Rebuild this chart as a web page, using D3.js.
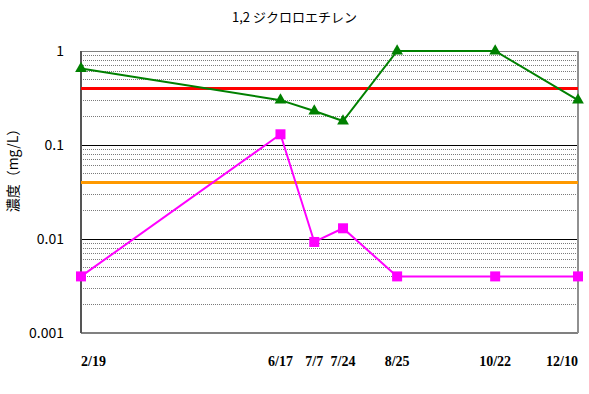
<!DOCTYPE html>
<html>
<head>
<meta charset="utf-8">
<script src="https://cdn.jsdelivr.net/npm/d3@7/dist/d3.min.js"></script>
<style>
  html, body { margin: 0; padding: 0; background: #fff; }
  svg { display: block; }
</style>
</head>
<body>
<div id="chart"></div>
<script>
// Sampling dates (month/day) and measured concentrations (mg/L)
const sampleDates = ["2/19", "6/17", "7/7", "7/24", "8/25", "10/22", "12/10"];
const seriesGreen = [0.65, 0.30, 0.23, 0.18, 1.0, 1.0, 0.30];
const seriesPink  = [0.004, 0.13, 0.0093, 0.013, 0.004, 0.004, 0.004];
// Reference levels drawn as horizontal lines
const limitRed = 0.4;
const limitOrange = 0.04;
// Y axis tick labels
const yTicks = [1, 0.1, 0.01, 0.001];
const yTickLabels = ["1", "0.1", "0.01", "0.001"];
const titleText = "1,2 ジクロロエチレン";
const yTitle = "濃度（mg/L）";

const W = 589, H = 394;
const m = { left: 81, right: 11, top: 51, bottom: 61 };

const parse = s => { const [mo, d] = s.split("/").map(Number); return new Date(2009, mo - 1, d); };
const dates = sampleDates.map(parse);

const svg = d3.select("#chart").append("svg").attr("width", W).attr("height", H);

const x = d3.scaleTime().domain(d3.extent(dates)).range([m.left, W - m.right]);
const y = d3.scaleLog().domain([0.001, 1]).range([H - m.bottom, m.top]);

// Minor gridlines (2..9 in each decade), dotted
const minor = [];
[0.001, 0.01, 0.1].forEach(base => { for (let k = 2; k <= 9; k++) minor.push(base * k); });
svg.append("g").selectAll("line").data(minor).join("line")
  .attr("x1", m.left).attr("x2", W - m.right)
  .attr("y1", d => y(d)).attr("y2", d => y(d))
  .attr("stroke", "#7a7a7a").attr("stroke-width", 1)
  .attr("stroke-dasharray", "1,1").attr("shape-rendering", "crispEdges");

// Major gridlines
svg.append("g").selectAll("line").data([0.1, 0.01]).join("line")
  .attr("x1", m.left).attr("x2", W - m.right)
  .attr("y1", d => y(d)).attr("y2", d => y(d))
  .attr("stroke", "#000").attr("stroke-width", 1).attr("shape-rendering", "crispEdges");

// Plot frame
svg.append("line").attr("x1", m.left).attr("x2", W - m.right).attr("y1", y(1)).attr("y2", y(1))
  .attr("stroke", "#808080").attr("stroke-width", 1).attr("shape-rendering", "crispEdges");
svg.append("line").attr("x1", m.left).attr("x2", W - m.right).attr("y1", y(0.001)).attr("y2", y(0.001))
  .attr("stroke", "#808080").attr("stroke-width", 1.5).attr("shape-rendering", "crispEdges");
svg.append("line").attr("x1", W - m.right).attr("x2", W - m.right).attr("y1", y(1)).attr("y2", y(0.001))
  .attr("stroke", "#909090").attr("stroke-width", 2).attr("shape-rendering", "crispEdges");
svg.append("line").attr("x1", m.left).attr("x2", m.left).attr("y1", y(1)).attr("y2", y(0.001))
  .attr("stroke", "#555").attr("stroke-width", 2).attr("shape-rendering", "crispEdges");

// Reference lines
svg.append("line").attr("x1", m.left).attr("x2", W - m.right)
  .attr("y1", y(limitRed)).attr("y2", y(limitRed))
  .attr("stroke", "#ff0000").attr("stroke-width", 3);
svg.append("line").attr("x1", m.left).attr("x2", W - m.right)
  .attr("y1", y(limitOrange)).attr("y2", y(limitOrange))
  .attr("stroke", "#ff9900").attr("stroke-width", 3);

// Series lines
const line = d3.line().x((d, i) => x(dates[i])).y(d => y(d));
svg.append("path").datum(seriesPink).attr("d", line)
  .attr("fill", "none").attr("stroke", "#ff00ff").attr("stroke-width", 2);
svg.append("path").datum(seriesGreen).attr("d", line)
  .attr("fill", "none").attr("stroke", "#008000").attr("stroke-width", 2);

// Markers
svg.append("g").selectAll("rect").data(seriesPink).join("rect")
  .attr("x", (d, i) => x(dates[i]) - 5).attr("y", d => y(d) - 5)
  .attr("width", 10).attr("height", 10).attr("fill", "#ff00ff");
const tri = d3.symbol().type(d3.symbolTriangle).size(60);
svg.append("g").selectAll("path").data(seriesGreen).join("path")
  .attr("d", tri)
  .attr("transform", (d, i) => `translate(${x(dates[i])},${y(d)})`)
  .attr("fill", "#008000");

// Y tick labels
svg.append("g").selectAll("text").data(yTicks).join("text")
  .attr("x", 64).attr("y", d => y(d)).attr("dy", "0.35em")
  .attr("text-anchor", "end")
  .attr("font-family", "'Noto Sans CJK JP', 'DejaVu Sans', sans-serif")
  .attr("font-size", 14).attr("fill", "#000")
  .text((d, i) => yTickLabels[i]);

// X tick labels
svg.append("g").selectAll("text").data(sampleDates).join("text")
  .attr("x", (d, i) => x(dates[i]))
  .attr("y", 366)
  .attr("text-anchor", (d, i) => i === 0 ? "start" : (i === sampleDates.length - 1 ? "end" : "middle"))
  .attr("font-family", "'Liberation Serif', 'Times New Roman', serif")
  .attr("font-weight", "bold")
  .attr("font-size", 14).attr("fill", "#000")
  .text(d => d);

// Title
svg.append("text").attr("x", W / 2).attr("y", 22)
  .attr("text-anchor", "middle")
  .attr("font-family", "'Noto Sans CJK JP', sans-serif")
  .attr("font-size", 13).attr("fill", "#000")
  .text(titleText);

// Y axis title (rotated)
svg.append("text")
  .attr("transform", `translate(18,${(y(1) + y(0.001)) / 2 - 25}) rotate(-90)`)
  .attr("text-anchor", "middle")
  .attr("font-family", "'Noto Sans CJK JP', sans-serif")
  .attr("font-size", 14).attr("fill", "#000")
  .text(yTitle);
</script>
</body>
</html>
